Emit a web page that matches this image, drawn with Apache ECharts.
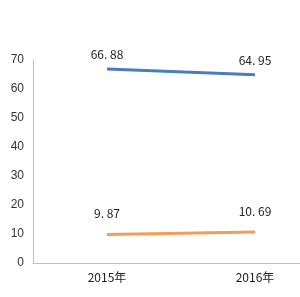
<!DOCTYPE html>
<html><head><meta charset="utf-8">
<script src="https://cdn.jsdelivr.net/npm/echarts@6/dist/echarts.min.js"></script>
<style>html,body{margin:0;padding:0;background:#fff}#c{width:300px;height:297px}</style>
</head><body><div id="c"></div>
<script>
const categories = ['2015年', '2016年'];
const seriesA = [66.88, 64.95];
const seriesB = [9.87, 10.69];
const yTicks = [0, 10, 20, 30, 40, 50, 60, 70];

const chart = echarts.init(document.getElementById('c'), null, {renderer: 'canvas'});
const lbl = {show: true, position: 'top', color: '#222', fontSize: 12, fontFamily: 'Noto Sans CJK SC, sans-serif',
  formatter: p => p.value.toFixed(2).replace('.', '. ')};
chart.setOption({
  animation: false,
  grid: {left: 33, top: 60, width: 296, bottom: 34, outerBoundsMode: 'none', containLabel: false},
  xAxis: {type: 'category', data: categories, boundaryGap: true,
    axisLine: {lineStyle: {color: '#bfbfbf', width: 1}}, axisTick: {show: false},
    axisLabel: {color: '#222', fontSize: 12, margin: 8, fontFamily: 'Noto Sans CJK SC, sans-serif'}},
  yAxis: {type: 'value', min: yTicks[0], max: yTicks[yTicks.length-1], interval: 10,
    axisLine: {show: true, lineStyle: {color: '#bfbfbf', width: 1}}, axisTick: {show: false},
    splitLine: {show: false},
    axisLabel: {color: '#333', fontSize: 12, margin: 9, fontFamily: 'Liberation Sans, Arial, sans-serif'}},
  series: [
    {type: 'line', data: seriesA, symbol: 'circle', symbolSize: 1, showSymbol: true,
      itemStyle: {color: 'rgba(0,0,0,0)', borderWidth: 0},
      lineStyle: {color: '#4a7ebb', width: 3},
      label: Object.assign({}, lbl, {distance: 8})},
    {type: 'line', data: seriesB, symbol: 'circle', symbolSize: 1, showSymbol: true,
      itemStyle: {color: 'rgba(0,0,0,0)', borderWidth: 0},
      lineStyle: {color: '#f59d56', width: 3},
      label: Object.assign({}, lbl, {distance: 14})}
  ]
});
</script></body></html>
